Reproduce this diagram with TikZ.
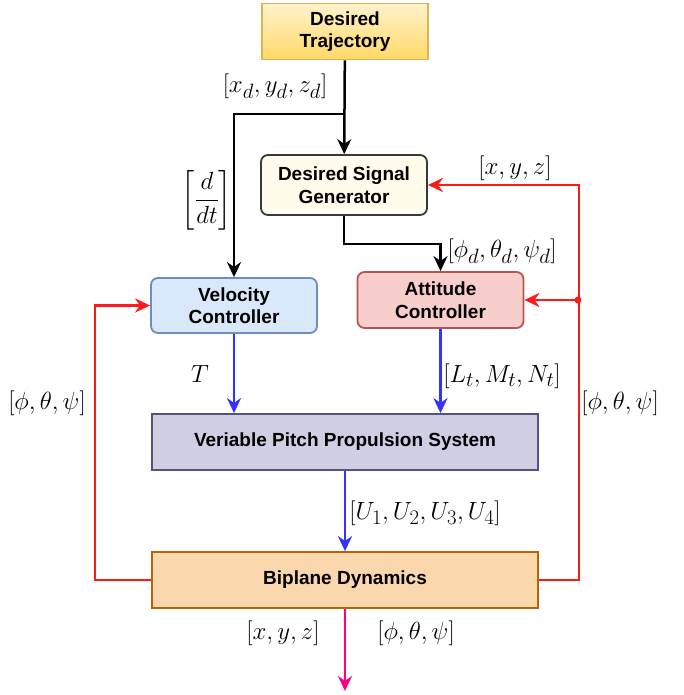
\documentclass[tikz,border=0pt]{standalone}
\usepackage{amssymb, mathtools, amsmath}
\usepackage{fontspec}
\setsansfont{Liberation Sans}
\usetikzlibrary{arrows.meta}

\definecolor{trajtop}{HTML}{FFF2CC}
\definecolor{trajbot}{HTML}{FFD966}
\definecolor{trajline}{HTML}{D6B656}
\definecolor{genfill}{HTML}{FFFCEB}
\definecolor{genline}{HTML}{36393D}
\definecolor{velfill}{HTML}{DAE8FC}
\definecolor{velline}{HTML}{6C8EBF}
\definecolor{attfill}{HTML}{F8CECC}
\definecolor{attline}{HTML}{B85450}
\definecolor{propfill}{HTML}{D0CEE2}
\definecolor{propline}{HTML}{56517E}
\definecolor{bipfill}{HTML}{FAD7AC}
\definecolor{bipline}{HTML}{B46504}
\definecolor{fbred}{HTML}{FF1A1A}
\definecolor{sigblue}{HTML}{3333FF}
\definecolor{outpink}{HTML}{FF0080}

\begin{document}
\begin{tikzpicture}[x=1pt,y=1pt,yscale=-1,
  block/.style={draw, line width=1.8pt, minimum width=166pt, minimum height=56pt,
    align=center, font=\sffamily\bfseries\fontsize{19}{22.5}\selectfont},
  wideblock/.style={block, minimum width=386pt},
  rblock/.style={block, rounded corners=7pt},
  blk/.style={line width=2.5pt, black, -{Stealth[length=15pt,width=14pt]}},
  redln/.style={line width=2.5pt, fbred},
  redarr/.style={redln, -{Stealth[length=15pt,width=14pt]}},
  bluarr/.style={line width=2.5pt, sigblue, -{Stealth[length=15pt,width=14pt]}},
  pinkarr/.style={line width=2.5pt, outpink, -{Stealth[length=15pt,width=14pt]}},
  lbl/.style={inner sep=0pt, font=\fontsize{24.88}{28}\selectfont}]
\useasboundingbox (0,0) rectangle (684,695);

% Blocks
\node[block, draw=trajline, top color=trajtop, bottom color=trajbot] (traj) at (345,31.5) {Desired\\Trajectory};
\node[rblock, draw=genline, fill=genfill, minimum height=60pt] (gen) at (344,185) {Desired Signal\\Generator};
\node[rblock, draw=velline, fill=velfill, minimum height=55pt] (vel) at (234,305.5) {Velocity\\Controller};
\node[rblock, draw=attline, fill=attfill] (att) at (440.5,300) {Attitude\\Controller};
\node[wideblock, draw=propline, fill=propfill] (prop) at (345,442) {Veriable Pitch Propulsion System};
\node[wideblock, draw=bipline, fill=bipfill] (bip) at (345,580) {Biplane Dynamics};

% Helper points
\coordinate (split) at (345,114);
\coordinate (join) at (578,300);
\coordinate (out) at (345,691);

% Reference path
\draw[blk] (traj) -- (gen);
\draw[blk] (split) -| (vel);
\draw[blk] (gen.south) -- ++(0,28) -| (att);

% Control signals
\draw[bluarr] (vel.south) -- (vel.south |- prop.north);
\draw[bluarr] (att.south) -- (att.south |- prop.north);
\draw[bluarr] (prop) -- (bip);
\draw[pinkarr] (bip.south) -- (out);

% Feedback
\draw[redarr] (bip.west) -- ++(-56,0) |- (vel.west);
\draw[redarr] (bip.east) -- ++(40,0) |- (gen.east);
\draw[redarr] (join) -- (att.east);
\fill[fbred] (join) circle (3.5pt);

% Text Node
\node[lbl] (lxd) at (275,86) {$[x_d, y_d, z_d]$};
\node[lbl] (lddt) at (207,200) {$\left[\dfrac{d}{dt}\right]$};
\node[lbl] (lxyz) at (515,168) {$[x, y, z]$};
\node[lbl] (lphid) at (502,251) {$[\phi_d, \theta_d, \psi_d]$};
\node[lbl] (lT) at (200,374) {$T$};
\node[lbl] (lLMN) at (502,376) {$[L_t, M_t, N_t]$};
\node[lbl] (lang1) at (47,403) {$[\phi, \theta, \psi]$};
\node[lbl] (lang2) at (620,403) {$[\phi, \theta, \psi]$};
\node[lbl] (lU) at (425,513) {$[U_1, U_2, U_3, U_4]$};
\node[lbl] (lxyzo) at (283,633) {$[x, y, z]$};
\node[lbl] (lango) at (416,633) {$[\phi, \theta, \psi]$};
\end{tikzpicture}
\end{document}
